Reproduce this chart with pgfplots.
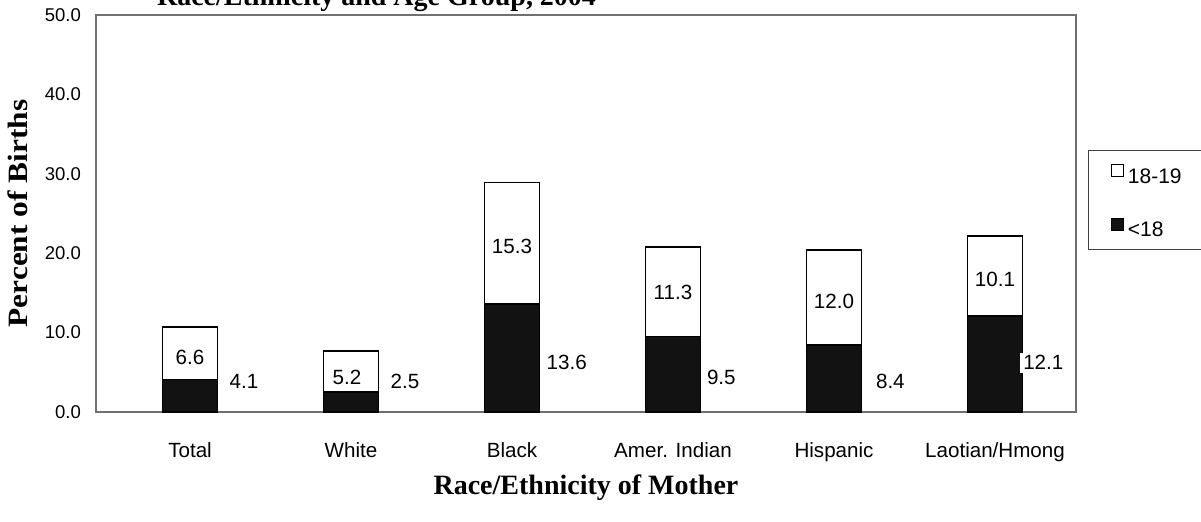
\documentclass[border=0pt]{standalone}
\usepackage{pgfplots}
\pgfplotsset{compat=1.18}
\usepackage{fontspec}
\setmainfont{Liberation Serif}
\setsansfont{Liberation Sans}
\definecolor{barblack}{RGB}{18,18,18}
\definecolor{axisgray}{RGB}{112,112,112}
\tikzset{lbl/.style={font=\sffamily\fontsize{10.3}{12}\selectfont, fill=white, inner sep=1.5pt}}

\begin{document}
\begin{tikzpicture}
\begin{axis}[
    name=ax,
    scale only axis,
    width=490pt, height=198.5pt,
    ybar stacked,
    bar width=27.5pt,
    xmin=-0.584, xmax=5.503,
    ymin=0, ymax=50,
    xtick={0,...,5},
    xticklabels={Total,White,Black,Amer. Indian,Hispanic,Laotian/Hmong},
    ytick={0,10,...,50},
    major tick length=0pt,
    axis line style={draw=axisgray, line width=0.9pt},
    yticklabel style={font=\sffamily\fontsize{9.25}{11}\selectfont, xshift=-4pt,
        /pgf/number format/.cd, fixed, fixed zerofill, precision=1, assume math mode=true},
    xticklabel style={font=\sffamily\fontsize{10.3}{12}\selectfont, yshift=-12pt},
    xlabel={Race/Ethnicity of Mother},
    ylabel={Percent of Births},
    xlabel style={font=\bfseries\fontsize{14}{16}\selectfont, at={(axis description cs:0.5,-0.19)}, anchor=center},
    ylabel style={font=\bfseries\fontsize{14}{16}\selectfont, at={(axis description cs:-0.0796,0.5)}, anchor=center, xscale=1.12},
    reverse legend,
    legend cell align=left,
    legend image code/.code={\path (0pt,-1pt) (0pt,10pt); \draw[#1,line width=0.6pt] (0pt,0.5pt) rectangle (6pt,6.5pt);},
    legend style={at={(1.0122,0.66)}, anchor=north west, draw=black!75, line width=0.5pt,
        inner xsep=11pt, inner ysep=3pt, row sep=10pt,
        font=\sffamily\fontsize{10.5}{12}\selectfont},
]
\addplot[fill=barblack, draw=black, line width=0.9pt]
    coordinates {(0,4.1)(1,2.5)(2,13.6)(3,9.5)(4,8.4)(5,12.1)};
\addplot[fill=white, draw=black, line width=0.9pt]
    coordinates {(0,6.6)(1,5.2)(2,15.3)(3,11.3)(4,12.0)(5,10.1)};
\legend{<18,18-19}

% label positions (placed by hand in the source chart)
\coordinate (a1) at (axis cs:0,6.9);
\coordinate (b1) at (axis cs:0.335,3.9);
\coordinate (a2) at (axis cs:0.975,4.3);
\coordinate (b2) at (axis cs:1.335,3.9);
\coordinate (a3) at (axis cs:2.0,20.8);
\coordinate (b3) at (axis cs:2.34,6.2);
\coordinate (a4) at (axis cs:3.0,15.0);
\coordinate (b4) at (axis cs:3.30,4.3);
\coordinate (a5) at (axis cs:4.0,13.9);
\coordinate (b5) at (axis cs:4.35,3.8);
\coordinate (a6) at (axis cs:5.0,16.7);
\coordinate (b6) at (axis cs:5.30,6.2);
\end{axis}
\node[lbl] at (a1) {6.6};
\node[lbl] at (b1) {4.1};
\node[lbl] at (a2) {5.2};
\node[lbl] at (b2) {2.5};
\node[lbl] at (a3) {15.3};
\node[lbl] at (b3) {13.6};
\node[lbl] at (a4) {11.3};
\node[lbl] at (b4) {9.5};
\node[lbl] at (a5) {12.0};
\node[lbl] at (b5) {8.4};
\node[lbl] at (a6) {10.1};
\node[lbl] at (b6) {12.1};
\node[anchor=base west, font=\bfseries\fontsize{14}{16}\selectfont]
    at ([xshift=27pt,yshift=203.5pt]ax.south west) {Race/Ethnicity and Age Group, 2004};
\pgfresetboundingbox
\path[use as bounding box] ([xshift=-48pt,yshift=-54.5pt]ax.south west) rectangle ++(600.5pt,260.5pt);
\end{tikzpicture}
\end{document}
